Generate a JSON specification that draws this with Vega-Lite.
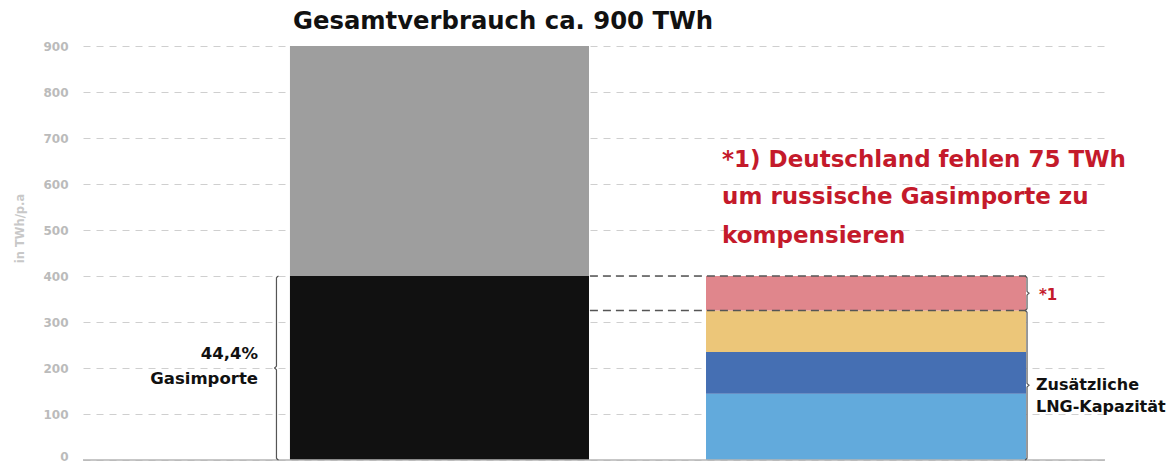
{
  "$schema": "https://vega.github.io/schema/vega-lite/v6.json",
  "width": 1022,
  "height": 414,
  "autosize": {"type": "none"},
  "padding": {"left": 83, "top": 46, "right": 63, "bottom": 2},
  "config": {"view": {"stroke": null}, "font": "DejaVu Sans"},
  "datasets": {
    "bars": [
      {"segment": "Gesamtverbrauch", "x": 20.25, "x2": 49.51, "y": 400, "y2": 900},
      {"segment": "Gasimporte", "x": 20.25, "x2": 49.51, "y": 0, "y2": 400},
      {"segment": "LNG 1", "x": 60.96, "x2": 92.27, "y": 0, "y2": 144},
      {"segment": "LNG 2", "x": 60.96, "x2": 92.27, "y": 144, "y2": 235},
      {"segment": "LNG 3", "x": 60.96, "x2": 92.27, "y": 235, "y2": 325},
      {"segment": "Fehlend", "x": 60.96, "x2": 92.27, "y": 325, "y2": 400}
    ],
    "dashed": [
      {"x": 49.6, "x2": 92.27, "y": 400},
      {"x": 49.6, "x2": 92.27, "y": 325}
    ],
    "brackets": [
      {"b": "L", "i": 0, "x": 19.13, "y": 400},
      {"b": "L", "i": 1, "x": 18.93, "y": 396},
      {"b": "L", "i": 2, "x": 18.93, "y": 204},
      {"b": "L", "i": 3, "x": 18.69, "y": 200},
      {"b": "L", "i": 4, "x": 18.93, "y": 196},
      {"b": "L", "i": 5, "x": 18.93, "y": 4},
      {"b": "L", "i": 6, "x": 19.13, "y": 0},
      {"b": "R1", "i": 0, "x": 92.17, "y": 325},
      {"b": "R1", "i": 1, "x": 92.37, "y": 321},
      {"b": "R1", "i": 2, "x": 92.37, "y": 166.5},
      {"b": "R1", "i": 3, "x": 92.62, "y": 162.5},
      {"b": "R1", "i": 4, "x": 92.37, "y": 158.5},
      {"b": "R1", "i": 5, "x": 92.37, "y": 4},
      {"b": "R1", "i": 6, "x": 92.17, "y": 0},
      {"b": "R2", "i": 0, "x": 92.17, "y": 400},
      {"b": "R2", "i": 1, "x": 92.37, "y": 396},
      {"b": "R2", "i": 2, "x": 92.37, "y": 366.5},
      {"b": "R2", "i": 3, "x": 92.62, "y": 362.5},
      {"b": "R2", "i": 4, "x": 92.37, "y": 358.5},
      {"b": "R2", "i": 5, "x": 92.37, "y": 329},
      {"b": "R2", "i": 6, "x": 92.17, "y": 325}
    ]
  },
  "layer": [
    {
      "data": {"name": "bars"},
      "mark": {"type": "rect"},
      "encoding": {
        "x": {"field": "x", "type": "quantitative", "scale": {"domain": [0, 100], "nice": false, "zero": false}, "axis": null},
        "x2": {"field": "x2"},
        "y": {
          "field": "y", "type": "quantitative",
          "scale": {"domain": [0, 900], "nice": false},
          "axis": {
            "values": [0, 100, 200, 300, 400, 500, 600, 700, 800, 900],
            "grid": true, "gridDash": [7, 6], "gridColor": "#cfcfcf", "gridWidth": 1,
            "domain": false, "ticks": false,
            "labelColor": "#bbbbbb", "labelFontWeight": "bold", "labelFontSize": 12, "labelPadding": 15,
            "labelBaseline": {"condition": {"test": "datum.value === 0", "value": "alphabetic"}, "value": "middle"},
            "title": "in TWh/p.a", "titleColor": "#c8c8c8", "titleFontSize": 11.5, "titleFontWeight": "bold",
            "titleX": -63, "titleY": 182, "titleBaseline": "middle", "titleAlign": "center", "titleAngle": -90
          }
        },
        "y2": {"field": "y2"},
        "color": {
          "field": "segment", "type": "nominal", "legend": null,
          "scale": {
            "domain": ["Gesamtverbrauch", "Gasimporte", "LNG 1", "LNG 2", "LNG 3", "Fehlend"],
            "range": ["#9e9e9e", "#111111", "#62aadc", "#456fb3", "#ecc679", "#e0868c"]
          }
        }
      }
    },
    {
      "data": {"values": [{"x": 0, "x2": 100, "y": 0}]},
      "mark": {"type": "rule", "color": "#b5b5b5", "strokeWidth": 1.5},
      "encoding": {
        "x": {"field": "x", "type": "quantitative"},
        "x2": {"field": "x2"},
        "y": {"field": "y", "type": "quantitative"}
      }
    },
    {
      "data": {"name": "dashed"},
      "mark": {"type": "rule", "color": "#555555", "strokeWidth": 1.3, "strokeDash": [8, 5]},
      "encoding": {
        "x": {"field": "x", "type": "quantitative"},
        "x2": {"field": "x2"},
        "y": {"field": "y", "type": "quantitative"}
      }
    },
    {
      "data": {"name": "brackets"},
      "mark": {"type": "line", "color": "#555555", "strokeWidth": 1.2, "interpolate": "monotone"},
      "encoding": {
        "x": {"field": "x", "type": "quantitative"},
        "y": {"field": "y", "type": "quantitative"},
        "detail": {"field": "b"},
        "order": {"field": "i", "type": "quantitative"}
      }
    },
    {
      "data": {"values": [{"x": 20.55, "y": 952, "t": "Gesamtverbrauch ca. 900 TWh"}]},
      "mark": {"type": "text", "align": "left", "baseline": "middle", "fontSize": 24.3, "fontWeight": "bold", "color": "#111111"},
      "encoding": {
        "x": {"field": "x", "type": "quantitative"},
        "y": {"field": "y", "type": "quantitative"},
        "text": {"field": "t"}
      }
    },
    {
      "data": {"values": [
        {"x": 62.53, "y": 652, "t": "*1) Deutschland fehlen 75 TWh"},
        {"x": 62.53, "y": 572, "t": "um russische Gasimporte zu"},
        {"x": 62.53, "y": 487, "t": "kompensieren"}
      ]},
      "mark": {"type": "text", "align": "left", "baseline": "middle", "fontSize": 23, "fontWeight": "bold", "color": "#c41a2b"},
      "encoding": {
        "x": {"field": "x", "type": "quantitative"},
        "y": {"field": "y", "type": "quantitative"},
        "text": {"field": "t"}
      }
    },
    {
      "data": {"values": [{"x": 93.54, "y": 359, "t": "*1"}]},
      "mark": {"type": "text", "align": "left", "baseline": "middle", "fontSize": 15, "fontWeight": "bold", "color": "#c41a2b"},
      "encoding": {
        "x": {"field": "x", "type": "quantitative"},
        "y": {"field": "y", "type": "quantitative"},
        "text": {"field": "t"}
      }
    },
    {
      "data": {"values": [
        {"x": 93.25, "y": 163, "t": "Zusätzliche"},
        {"x": 93.25, "y": 115, "t": "LNG-Kapazität"}
      ]},
      "mark": {"type": "text", "align": "left", "baseline": "middle", "fontSize": 16, "fontWeight": "bold", "color": "#111111"},
      "encoding": {
        "x": {"field": "x", "type": "quantitative"},
        "y": {"field": "y", "type": "quantitative"},
        "text": {"field": "t"}
      }
    },
    {
      "data": {"values": [
        {"x": 17.12, "y": 230, "t": "44,4%"},
        {"x": 17.12, "y": 176, "t": "Gasimporte"}
      ]},
      "mark": {"type": "text", "align": "right", "baseline": "middle", "fontSize": 16.5, "fontWeight": "bold", "color": "#111111"},
      "encoding": {
        "x": {"field": "x", "type": "quantitative"},
        "y": {"field": "y", "type": "quantitative"},
        "text": {"field": "t"}
      }
    }
  ]
}
